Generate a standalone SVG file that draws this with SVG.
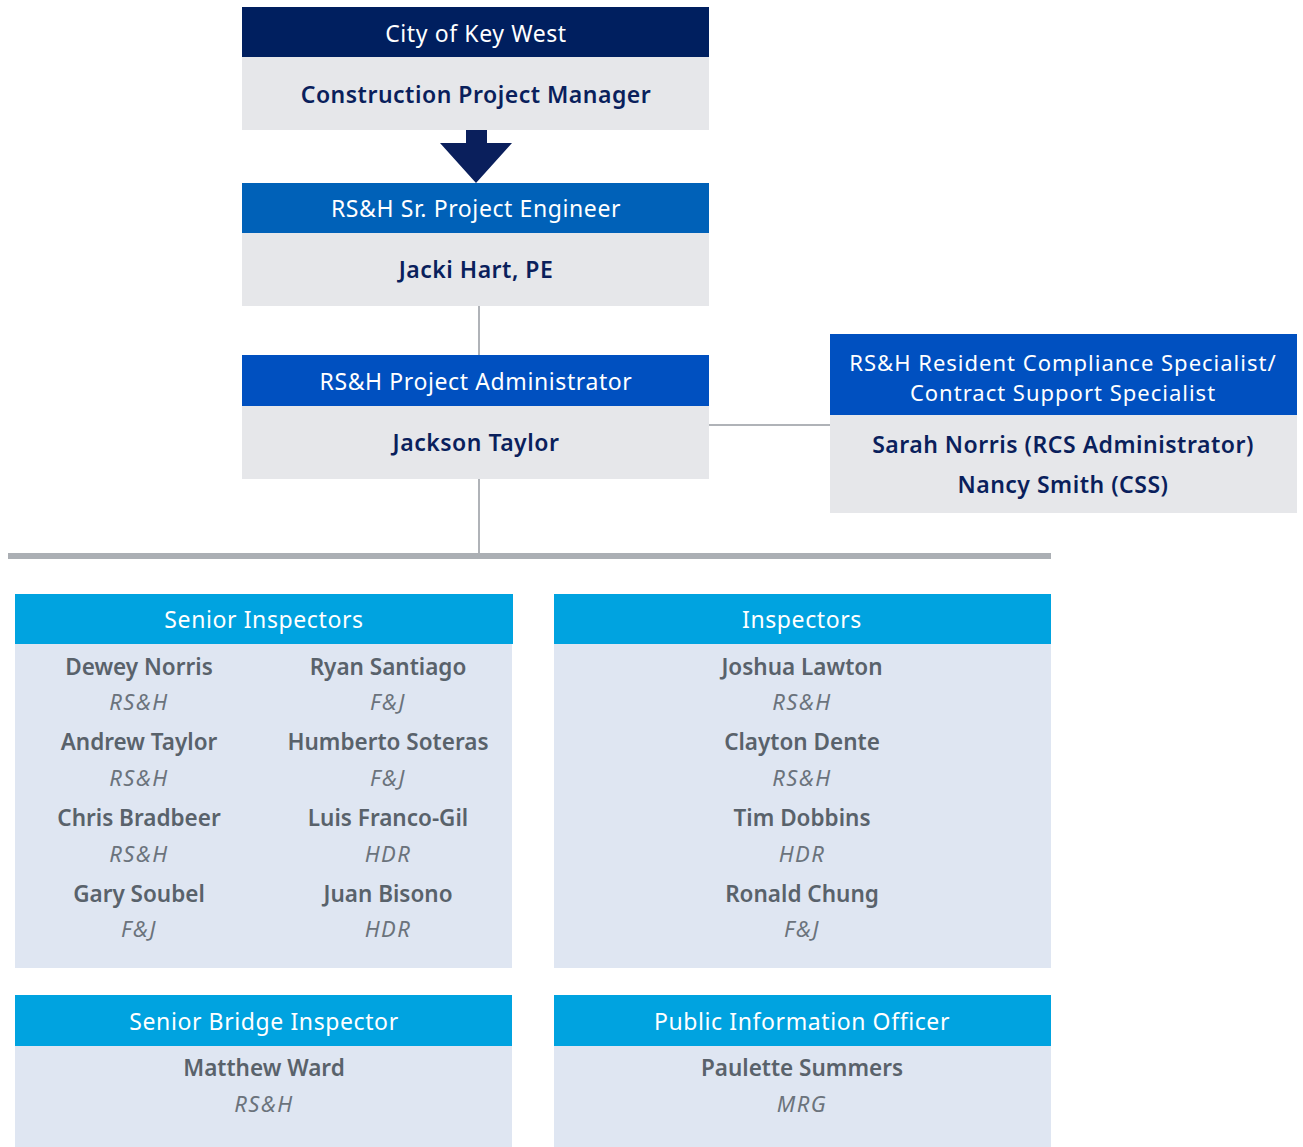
<svg xmlns="http://www.w3.org/2000/svg" width="1303" height="1147" viewBox="0 0 1303 1147">
<style>
text{font-family:"Noto Sans","Open Sans","Liberation Sans",sans-serif;text-anchor:middle}
.hd{fill:#ffffff;font-size:23px;letter-spacing:0.6px}
.hd2{fill:#ffffff;font-size:22px;letter-spacing:1px}
.nm{fill:#0a1f5c;font-size:23px;font-weight:600;letter-spacing:0.5px}
.body{fill:#e6e7ea}
.lb{fill:#dfe6f2}
.lh{fill:#00a3e0}
.pn{fill:#59626b;font-size:22.5px;font-weight:600}
.co{fill:#6b737c;font-size:22px;font-style:italic;letter-spacing:1.5px}
.ln{stroke:#b0b3b8;stroke-width:2;fill:none}
</style>
<rect width="1303" height="1147" fill="#ffffff"/>
<g id="connectors">
<polygon points="466,130 487,130 487,143 512,143 476,183 440,143 466,143" fill="#0a1f5c"/>
<line class="ln" x1="479" y1="306" x2="479" y2="355"/>
<line class="ln" x1="709" y1="425" x2="830" y2="425"/>
<line class="ln" x1="479" y1="479" x2="479" y2="554"/>
<rect x="8" y="553" width="1043" height="6" fill="#abafb4"/>
</g>
<g id="city">
<rect x="242" y="7" width="467" height="50" fill="#001f5f"/>
<rect class="body" x="242" y="57" width="467" height="73"/>
<text class="hd" x="476" y="42">City of Key West</text>
<text class="nm" x="476" y="103">Construction Project Manager</text>
</g>
<g id="engineer">
<rect x="242" y="183" width="467" height="50" fill="#0061b8"/>
<rect class="body" x="242" y="233" width="467" height="73"/>
<text class="hd" x="476" y="217">RS&amp;H Sr. Project Engineer</text>
<text class="nm" x="476" y="278">Jacki Hart, PE</text>
</g>
<g id="admin">
<rect x="242" y="355" width="467" height="51" fill="#0050c0"/>
<rect class="body" x="242" y="406" width="467" height="73"/>
<text class="hd" x="476" y="390">RS&amp;H Project Administrator</text>
<text class="nm" x="476" y="451">Jackson Taylor</text>
</g>
<g id="compliance">
<rect x="830" y="334" width="467" height="81" fill="#0050c0"/>
<rect class="body" x="830" y="415" width="467" height="98"/>
<text class="hd2" x="1063" y="371">RS&amp;H Resident Compliance Specialist/</text>
<text class="hd2" x="1063" y="401">Contract Support Specialist</text>
<text class="nm" x="1063" y="453">Sarah Norris (RCS Administrator)</text>
<text class="nm" x="1063" y="493">Nancy Smith (CSS)</text>
</g>
<g id="senior-inspectors">
<rect class="lh" x="15" y="594" width="498" height="50"/>
<rect class="lb" x="15" y="644" width="497" height="324"/>
<text class="hd" x="264" y="628">Senior Inspectors</text>
<text class="pn" x="139" y="675">Dewey Norris</text>
<text class="co" x="139" y="710">RS&amp;H</text>
<text class="pn" x="139" y="750">Andrew Taylor</text>
<text class="co" x="139" y="786">RS&amp;H</text>
<text class="pn" x="139" y="826">Chris Bradbeer</text>
<text class="co" x="139" y="862">RS&amp;H</text>
<text class="pn" x="139" y="902">Gary Soubel</text>
<text class="co" x="139" y="937">F&amp;J</text>
<text class="pn" x="388" y="675">Ryan Santiago</text>
<text class="co" x="388" y="710">F&amp;J</text>
<text class="pn" x="388" y="750">Humberto Soteras</text>
<text class="co" x="388" y="786">F&amp;J</text>
<text class="pn" x="388" y="826">Luis Franco-Gil</text>
<text class="co" x="388" y="862">HDR</text>
<text class="pn" x="388" y="902">Juan Bisono</text>
<text class="co" x="388" y="937">HDR</text>
</g>
<g id="inspectors">
<rect class="lh" x="554" y="594" width="497" height="50"/>
<rect class="lb" x="554" y="644" width="497" height="324"/>
<text class="hd" x="802" y="628">Inspectors</text>
<text class="pn" x="802" y="675">Joshua Lawton</text>
<text class="co" x="802" y="710">RS&amp;H</text>
<text class="pn" x="802" y="750">Clayton Dente</text>
<text class="co" x="802" y="786">RS&amp;H</text>
<text class="pn" x="802" y="826">Tim Dobbins</text>
<text class="co" x="802" y="862">HDR</text>
<text class="pn" x="802" y="902">Ronald Chung</text>
<text class="co" x="802" y="937">F&amp;J</text>
</g>
<g id="bridge-inspector">
<rect class="lh" x="15" y="995" width="497" height="51"/>
<rect class="lb" x="15" y="1046" width="497" height="101"/>
<text class="hd" x="264" y="1030">Senior Bridge Inspector</text>
<text class="pn" x="264" y="1076">Matthew Ward</text>
<text class="co" x="264" y="1112">RS&amp;H</text>
</g>
<g id="public-info">
<rect class="lh" x="554" y="995" width="497" height="51"/>
<rect class="lb" x="554" y="1046" width="497" height="101"/>
<text class="hd" x="802" y="1030">Public Information Officer</text>
<text class="pn" x="802" y="1076">Paulette Summers</text>
<text class="co" x="802" y="1112">MRG</text>
</g>
</svg>
